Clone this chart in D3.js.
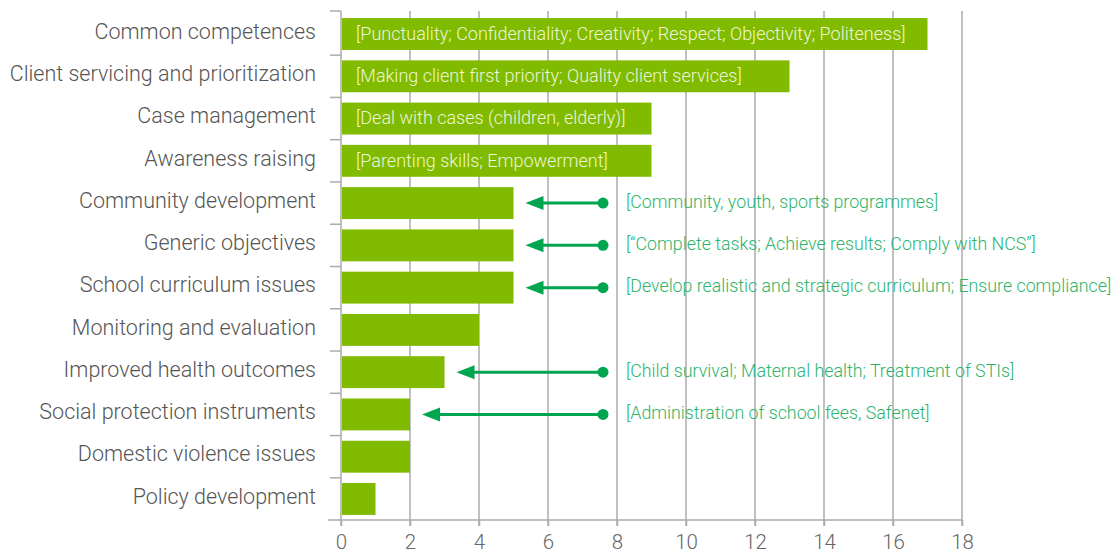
<!DOCTYPE html>
<html>
<head>
<meta charset="utf-8">
<script src="https://cdn.jsdelivr.net/npm/d3@7"></script>
<style>
  html, body { margin: 0; padding: 0; background: #fff; }
  svg { display: block; font-family: Roboto, "Liberation Sans", sans-serif; }
</style>
</head>
<body>
<svg id="chart" width="1113" height="555"></svg>
<script>
// Competence areas and the number of mentions for each
const categories = [
  "Common competences",
  "Client servicing and prioritization",
  "Case management",
  "Awareness raising",
  "Community development",
  "Generic objectives",
  "School curriculum issues",
  "Monitoring and evaluation",
  "Improved health outcomes",
  "Social protection instruments",
  "Domestic violence issues",
  "Policy development"
];
const values = [17, 13, 9, 9, 5, 5, 5, 4, 3, 2, 2, 1];

// Examples written inside the longer bars
const insideNotes = [
  "[Punctuality; Confidentiality; Creativity; Respect; Objectivity; Politeness]",
  "[Making client first priority; Quality client services]",
  "[Deal with cases (children, elderly)]",
  "[Parenting skills; Empowerment]",
  null, null, null, null, null, null, null, null
];

// Examples pointed at the shorter bars with arrows
const calloutNotes = [
  null, null, null, null,
  "[Community, youth, sports programmes]",
  "[\u201cComplete tasks; Achieve results; Comply with NCS\u201d]",
  "[Develop realistic and strategic curriculum; Ensure compliance]",
  null,
  "[Child survival; Maternal health; Treatment of STIs]",
  "[Administration of school fees, Safenet]",
  null, null
];

const xTicks = [0, 2, 4, 6, 8, 10, 12, 14, 16, 18];

const svg = d3.select("#chart");
const plotLeft = 341, plotRight = 962, plotTop = 11, plotBottom = 520;

const x = d3.scaleLinear().domain([0, 18]).range([plotLeft, plotRight]);
const y = d3.scaleBand().domain(categories).range([plotTop + 2, plotBottom]).paddingInner(0.245).paddingOuter(0.12);

const gridColor = "#ababab";
const barColor = "#80bb00";
const noteColor = "#00a550";
const noteText = "#2db46b";

// Vertical gridlines
svg.append("g").selectAll("line")
  .data(xTicks.slice(1))
  .join("line")
  .attr("x1", d => x(d)).attr("x2", d => x(d))
  .attr("y1", plotTop).attr("y2", plotBottom + 6)
  .attr("stroke", gridColor).attr("stroke-width", 1.5);

// Bottom axis
const xAxis = svg.append("g")
  .attr("transform", `translate(0,${plotBottom})`)
  .call(d3.axisBottom(x).tickValues(xTicks).tickSize(6).tickPadding(8));
xAxis.select(".domain").remove();
xAxis.selectAll("line").attr("stroke", gridColor).attr("stroke-width", 1.5);
xAxis.selectAll("text").attr("fill", "#666").attr("font-size", 20.5).attr("font-weight", 300)
  .attr("font-family", "Roboto, sans-serif");
svg.append("line")
  .attr("x1", plotLeft - 13).attr("x2", plotRight)
  .attr("y1", plotBottom).attr("y2", plotBottom)
  .attr("stroke", gridColor).attr("stroke-width", 1.5);

// Left axis line with ticks between bands
svg.append("line")
  .attr("x1", plotLeft).attr("x2", plotLeft)
  .attr("y1", plotTop).attr("y2", plotBottom + 6)
  .attr("stroke", gridColor).attr("stroke-width", 1.5);
const step = y.step();
const boundaries = categories.map(c => y(c) - (step - y.bandwidth()) / 2);
svg.append("g").selectAll("line")
  .data(boundaries)
  .join("line")
  .attr("x1", plotLeft - 11).attr("x2", plotLeft)
  .attr("y1", (d, i) => i === 0 ? plotTop : d).attr("y2", (d, i) => i === 0 ? plotTop : d)
  .attr("stroke", gridColor).attr("stroke-width", 1.5);

// Bars
svg.append("g").selectAll("rect")
  .data(categories)
  .join("rect")
  .attr("x", x(0) + 1)
  .attr("y", d => y(d))
  .attr("width", (d, i) => x(values[i]) - x(0) - 1)
  .attr("height", y.bandwidth())
  .attr("fill", barColor);

// Category labels
svg.append("g").selectAll("text")
  .data(categories)
  .join("text")
  .attr("x", 316)
  .attr("y", d => y(d) + y.bandwidth() / 2 - 1)
  .attr("text-anchor", "end")
  .attr("dominant-baseline", "middle")
  .attr("font-size", 21.5)
  .attr("font-weight", 300)
  .attr("fill", "#555")
  .text(d => d);

// Notes inside bars
svg.append("g").selectAll("text")
  .data(categories.filter((c, i) => insideNotes[i]))
  .join("text")
  .attr("x", x(0) + 15)
  .attr("y", d => y(d) + y.bandwidth() / 2 + 1)
  .attr("dominant-baseline", "middle")
  .attr("font-size", 18)
  .attr("font-weight", 300)
  .attr("fill", "#eef6d8")
  .text(d => insideNotes[categories.indexOf(d)]);

// Arrow callouts
const dotX = 603;
const callouts = categories.map((c, i) => ({ c, v: values[i], note: calloutNotes[i] })).filter(d => d.note);
const cg = svg.append("g").selectAll("g").data(callouts).join("g")
  .attr("transform", d => `translate(0,${y(d.c) + y.bandwidth() / 2})`);
cg.append("line")
  .attr("x1", d => x(d.v) + 24).attr("x2", dotX)
  .attr("y1", 0).attr("y2", 0)
  .attr("stroke", noteColor).attr("stroke-width", 3);
cg.append("path")
  .attr("d", d => {
    const tip = x(d.v) + 12;
    return `M${tip},0 L${tip + 18},-7 L${tip + 18},7 Z`;
  })
  .attr("fill", noteColor);
cg.append("circle")
  .attr("cx", dotX).attr("cy", 0).attr("r", 5.5)
  .attr("fill", noteColor);
cg.append("text")
  .attr("x", 626).attr("y", 0)
  .attr("dominant-baseline", "middle")
  .attr("font-size", 17.8)
  .attr("font-weight", 300)
  .attr("fill", noteText)
  .text(d => d.note);
</script>
</body>
</html>
